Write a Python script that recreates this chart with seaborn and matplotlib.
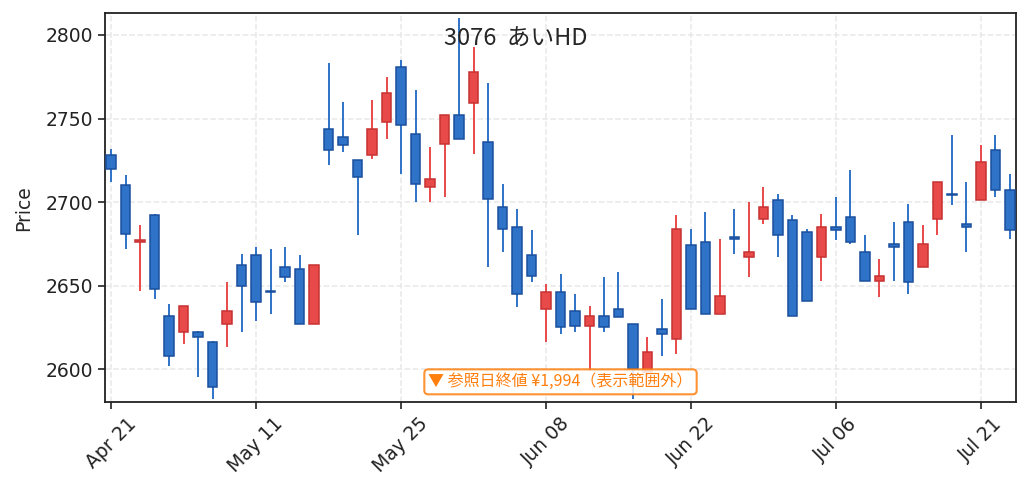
import numpy as np
import pandas as pd
import matplotlib
matplotlib.use("Agg")
import matplotlib.pyplot as plt
from matplotlib.ticker import MultipleLocator
import seaborn as sns

code = "3076"
name = "あいHD"
ref_close = 1994

# trading days (TSE calendar, 2026)
start = "2026-04-21"
holidays = ["2026-04-29", "2026-05-04", "2026-05-05", "2026-05-06", "2026-07-20"]

opens = [2728, 2710, 2676, 2692, 2632, 2622, 2622, 2616, 2627, 2662,
         2668, 2647, 2661, 2660, 2627, 2744, 2739, 2725, 2728, 2748,
         2781, 2741, 2709, 2735, 2752, 2759, 2736, 2697, 2685, 2668,
         2636, 2646, 2635, 2626, 2632, 2636, 2627, 2598, 2624, 2618,
         2674, 2676, 2633, 2679, 2667, 2690, 2701, 2689, 2682, 2667,
         2685, 2691, 2670, 2653, 2675, 2688, 2661, 2690, 2705, 2687,
         2701, 2731, 2707]
highs = [2732, 2716, 2686, 2693, 2639, 2638, 2622.5, 2616.5, 2652, 2669,
         2673, 2672, 2673, 2668, 2662, 2783, 2760, 2725, 2761, 2775,
         2785, 2767, 2733, 2752, 2810, 2793, 2771, 2711, 2696, 2683,
         2651, 2657, 2645, 2638, 2655, 2658, 2627, 2619, 2642, 2692,
         2684, 2694, 2678, 2696, 2700, 2709, 2705, 2692, 2684, 2693,
         2703, 2719, 2680, 2666, 2688, 2699, 2686, 2712, 2740, 2712,
         2734, 2740, 2717]
lows = [2712, 2672, 2647, 2642, 2602, 2615, 2595, 2582, 2613, 2622,
        2629, 2633, 2652, 2627, 2627, 2722, 2730, 2680, 2726, 2738,
        2717, 2700, 2700, 2703, 2738, 2729, 2661, 2670, 2637, 2652,
        2616, 2621, 2622, 2599, 2622, 2631, 2582, 2594, 2608, 2609,
        2636, 2633, 2633, 2669, 2655, 2687, 2667, 2632, 2641, 2653,
        2677, 2675, 2653, 2643, 2653, 2645, 2661, 2680, 2698, 2670,
        2701, 2703, 2678]
closes = [2720, 2681, 2677, 2648, 2608, 2638, 2619, 2589, 2635, 2650,
          2640, 2646, 2655, 2627, 2662, 2731, 2734, 2715, 2744, 2765,
          2746, 2711, 2714, 2752, 2738, 2778, 2702, 2684, 2645, 2656,
          2646, 2625, 2626, 2632, 2625, 2631, 2600, 2610, 2621, 2684,
          2636, 2633, 2644, 2678, 2670, 2697, 2680, 2632, 2641, 2685,
          2683, 2676, 2653, 2656, 2673, 2652, 2675, 2712, 2704, 2685,
          2724, 2707, 2683]

dates = pd.bdate_range(start, periods=len(opens), freq="C", holidays=holidays)
df = pd.DataFrame({"date": dates, "open": opens, "high": highs,
                   "low": lows, "close": closes})
df["x"] = np.arange(len(df))
df["up"] = df["close"] >= df["open"]

sns.set_style("ticks")
plt.rcParams["font.family"] = ["DejaVu Sans", "Noto Sans CJK JP"]
jp = ["Noto Sans CJK JP", "DejaVu Sans"]

fig = plt.figure(figsize=(10.31, 4.92), dpi=100)
ax = fig.add_axes([0.1018, 0.182, 0.8837, 0.791])

up_fill, up_edge = "#e84a4a", "#c83232"
dn_fill, dn_edge = "#2e73c8", "#1b4f9e"

for is_up, fill, edge in [(True, up_fill, up_edge), (False, dn_fill, dn_edge)]:
    d = df[df["up"] == is_up]
    ax.vlines(d["x"], d["low"], d["high"], color=fill, linewidth=1.4, zorder=2)
    bottom = np.minimum(d["open"], d["close"])
    height = (d["close"] - d["open"]).abs()
    ax.bar(d["x"], height, bottom=bottom, width=0.65, color=fill,
           edgecolor=edge, linewidth=1.1, zorder=3)

ax.set_xlim(-0.42, len(df) - 1 + 0.42)
ax.set_ylim(2580, 2813)
ax.yaxis.set_major_locator(MultipleLocator(50))
ticks = df["x"][::10]
ax.set_xticks(ticks)
ax.set_xticklabels(df["date"][::10].dt.strftime("%b %d"), rotation=45)
ax.tick_params(labelsize=13.5, length=5, width=1.2, colors="#222222")
ax.set_ylabel("Price", fontsize=13.5, labelpad=9)
ax.grid(True, linestyle="--", color="#e8e8e8", linewidth=1.1)
ax.set_axisbelow(True)
for s in ax.spines.values():
    s.set_linewidth(1.3)
    s.set_color("#222222")

fig.text(0.5, 0.921, f"{code}  {name}", ha="center", va="center",
         fontsize=17, family=jp)

ax.text(0.5, 0.053, f"▼ 参照日終値 ¥{ref_close:,}（表示範囲外）",
        transform=ax.transAxes, ha="center", va="center", fontsize=11.5,
        color="#ff7f0e", family=jp, zorder=5,
        bbox=dict(boxstyle="round,pad=0.25", facecolor="white", alpha=0.85,
                  edgecolor="#ff7f0e", linewidth=1.5))

fig.savefig("out.png", dpi=100)
